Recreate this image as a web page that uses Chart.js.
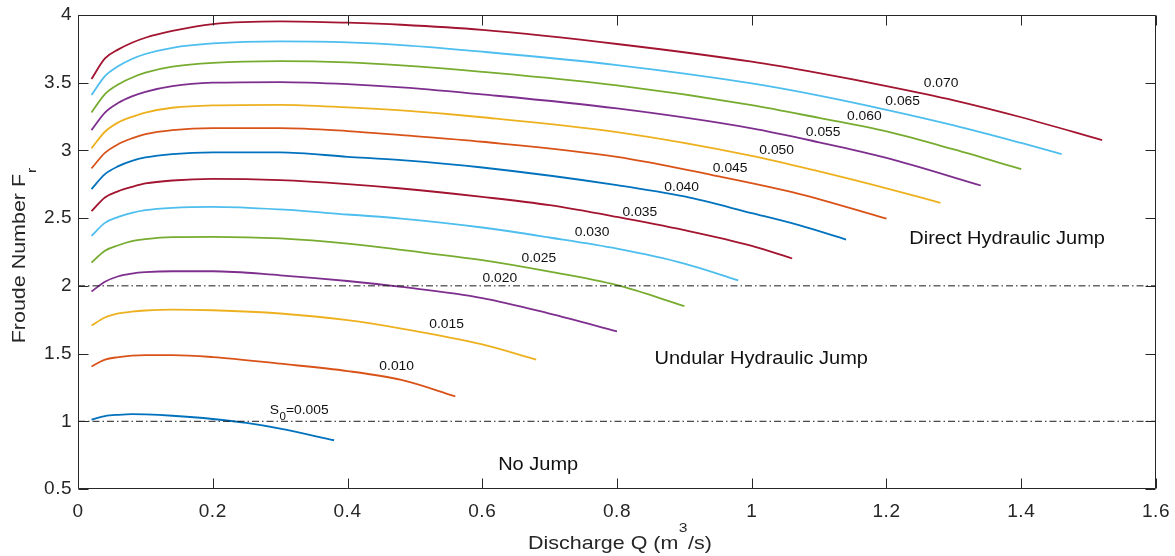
<!DOCTYPE html>
<html>
<head>
<meta charset="utf-8">
<script src="https://cdn.jsdelivr.net/npm/chart.js@4.4.1/dist/chart.umd.min.js"></script>
<style>
  html, body { margin: 0; padding: 0; background: #fff; }
  #wrap { width: 1175px; height: 556px; }
</style>
</head>
<body>
<div id="wrap"><canvas id="c" width="1175" height="556"></canvas></div>
<script>
// Froude number Fr against discharge Q for bed slopes S0 = 0.005 ... 0.070
const slopeNames = ['0.005','0.010','0.015','0.020','0.025','0.030','0.035',
                    '0.040','0.045','0.050','0.055','0.060','0.065','0.070'];

const q005 = [0.02,0.04,0.06,0.08,0.10,0.14,0.20,0.25,0.30,0.38];
const fr005 = [1.012,1.038,1.048,1.053,1.051,1.041,1.017,0.988,0.946,0.860];

const q010 = [0.02,0.04,0.06,0.08,0.10,0.14,0.20,0.30,0.40,0.48,0.56];
const fr010 = [1.405,1.455,1.474,1.485,1.489,1.489,1.474,1.425,1.371,1.305,1.184];

const q015 = [0.02,0.04,0.06,0.08,0.10,0.14,0.20,0.30,0.40,0.48,0.60,0.68];
const fr015 = [1.707,1.766,1.796,1.810,1.818,1.825,1.820,1.796,1.747,1.685,1.568,1.456];

const q020 = [0.02,0.04,0.06,0.08,0.10,0.14,0.20,0.30,0.40,0.48,0.60,0.70,0.80];
const fr020 = [1.958,2.030,2.071,2.091,2.101,2.108,2.108,2.078,2.036,1.992,1.910,1.795,1.664];

const q025 = [0.02,0.04,0.06,0.08,0.10,0.14,0.20,0.30,0.40,0.48,0.60,0.70,0.80,0.90];
const fr025 = [2.172,2.260,2.300,2.330,2.345,2.360,2.362,2.350,2.312,2.265,2.190,2.105,2.005,1.851];

const q030 = [0.02,0.04,0.06,0.08,0.10,0.14,0.20,0.30,0.40,0.48,0.60,0.70,0.80,0.90,0.98];
const fr030 = [2.369,2.465,2.509,2.539,2.559,2.576,2.583,2.564,2.527,2.497,2.431,2.357,2.275,2.165,2.041];

const q035 = [0.02,0.04,0.06,0.08,0.10,0.14,0.20,0.30,0.40,0.48,0.60,0.70,0.80,0.90,1.00,1.06];
const fr035 = [2.551,2.653,2.700,2.731,2.756,2.778,2.790,2.780,2.751,2.719,2.657,2.596,2.509,2.411,2.295,2.202];

const q040 = [0.02,0.04,0.06,0.08,0.10,0.14,0.20,0.30,0.40,0.48,0.60,0.80,0.90,1.00,1.07,1.14];
const fr040 = [2.714,2.825,2.884,2.923,2.948,2.973,2.985,2.985,2.953,2.928,2.874,2.744,2.660,2.537,2.448,2.342];

const q045 = [0.02,0.04,0.06,0.08,0.10,0.14,0.20,0.30,0.40,0.48,0.60,0.80,0.94,1.07,1.20];
const fr045 = [2.867,2.982,3.047,3.089,3.120,3.150,3.165,3.165,3.143,3.113,3.064,2.953,2.820,2.680,2.497];

const q050 = [0.02,0.04,0.06,0.08,0.10,0.14,0.20,0.30,0.40,0.48,0.60,0.80,1.00,1.10,1.20,1.28];
const fr050 = [3.015,3.138,3.207,3.248,3.280,3.315,3.333,3.337,3.318,3.295,3.245,3.135,2.960,2.845,2.720,2.613];

const q055 = [0.02,0.04,0.06,0.08,0.10,0.14,0.20,0.30,0.40,0.48,0.60,0.80,1.00,1.10,1.20,1.34];
const fr055 = [3.150,3.280,3.352,3.399,3.433,3.475,3.500,3.505,3.490,3.466,3.414,3.310,3.163,3.060,2.945,2.741];

const q060 = [0.02,0.04,0.06,0.08,0.10,0.14,0.20,0.30,0.40,0.48,0.60,0.80,1.00,1.10,1.20,1.30,1.40];
const fr060 = [3.280,3.416,3.488,3.537,3.574,3.618,3.647,3.660,3.650,3.628,3.580,3.480,3.335,3.240,3.140,3.007,2.862];

const q065 = [0.02,0.04,0.06,0.08,0.10,0.14,0.20,0.30,0.40,0.48,0.60,0.80,1.00,1.10,1.20,1.30,1.40,1.46];
const fr065 = [3.409,3.549,3.623,3.675,3.712,3.758,3.790,3.805,3.798,3.778,3.729,3.630,3.495,3.405,3.300,3.185,3.055,2.973];

const q070 = [0.02,0.04,0.06,0.08,0.10,0.14,0.20,0.30,0.40,0.48,0.60,0.80,1.00,1.10,1.20,1.30,1.40,1.52];
const fr070 = [3.527,3.680,3.746,3.795,3.832,3.882,3.933,3.953,3.943,3.928,3.890,3.786,3.655,3.570,3.475,3.370,3.245,3.076];

// Boundaries between flow regimes (Fr = 1 and Fr = 2)
const limitQ = [0, 1.6];
const limitFr = [1, 2];

// Axis ticks
const xTicks = [0, 0.2, 0.4, 0.6, 0.8, 1, 1.2, 1.4, 1.6];
const yTicks = [0.5, 1, 1.5, 2, 2.5, 3, 3.5, 4];

// Curve labels: text and anchor in data coordinates (Q, Fr)
const curveLabelQ  = [null, 0.473, 0.547, 0.626, 0.684, 0.763, 0.834, 0.896, 0.968, 1.037, 1.106, 1.167, 1.224, 1.281];
const curveLabelFr = [null, 1.401, 1.716, 2.056, 2.204, 2.396, 2.544, 2.729, 2.867, 3.000, 3.130, 3.251, 3.359, 3.497];
const firstLabelAt = { q: 0.2846, fr: 1.056 };

// Regime annotations
const regionText = ['Direct Hydraulic Jump', 'Undular Hydraulic Jump', 'No Jump'];
const regionQ  = [1.379, 1.014, 0.683];
const regionFr = [2.344, 1.458, 0.674];

const palette = ['#0072BD','#D95319','#EDB120','#7E2F8E','#77AC30','#4DBEEE','#A2142F'];
const qSeries  = [q005,q010,q015,q020,q025,q030,q035,q040,q045,q050,q055,q060,q065,q070];
const frSeries = [fr005,fr010,fr015,fr020,fr025,fr030,fr035,fr040,fr045,fr050,fr055,fr060,fr065,fr070];

const FONT = '"Liberation Sans", Arial, Helvetica, sans-serif';
const AXIS_COLOR = '#262626';
const WIDEN = 1.1;        // horizontal stretch for annotation text
const WIDEN_TITLE = 1.16; // horizontal stretch for axis titles

const datasets = [];
limitFr.forEach(f => {
  datasets.push({
    label: 'Fr = ' + f,
    data: limitQ.map(q => ({ x: q, y: f })),
    borderColor: '#1a1a1a',
    borderWidth: 1,
    borderDash: [7, 3, 1.5, 3],
    pointRadius: 0,
    tension: 0
  });
});
qSeries.forEach((qs, i) => {
  datasets.push({
    label: 'S0 = ' + slopeNames[i],
    data: qs.map((q, k) => ({ x: q, y: frSeries[i][k] })),
    borderColor: palette[i % palette.length],
    borderWidth: 1.8,
    pointRadius: 0,
    cubicInterpolationMode: 'monotone'
  });
});

// Draws text stretched along its own direction; returns drawn width
function wideText(ctx, text, x, y, font, align, k) {
  k = k || WIDEN;
  ctx.font = font;
  const w = ctx.measureText(text).width * k;
  ctx.save();
  ctx.translate(x, y);
  ctx.scale(k, 1);
  ctx.textAlign = align || 'left';
  ctx.fillText(text, 0, 0);
  ctx.restore();
  return w;
}
function wideWidth(ctx, text, font, k) {
  ctx.font = font;
  return ctx.measureText(text).width * (k || WIDEN);
}

// Box around the plot with inward tick marks on all four sides
const framePlugin = {
  id: 'frame',
  beforeDraw(chart) {
    chart.ctx.letterSpacing = '0.5px';
  },
  afterDatasetsDraw(chart) {
    const { ctx, chartArea: a, scales: { x, y } } = chart;
    ctx.save();
    ctx.strokeStyle = AXIS_COLOR;
    ctx.lineWidth = 1;
    const L = Math.round(a.left) + 0.5, R = Math.round(a.right) - 0.5;
    const T = Math.round(a.top) + 0.5, B = Math.round(a.bottom) - 0.5;
    ctx.beginPath();
    ctx.rect(L, T, R - L, B - T);
    xTicks.forEach(v => {
      const px = Math.round(x.getPixelForValue(v)) + 0.5;
      ctx.moveTo(px, B); ctx.lineTo(px, B - 10);
      ctx.moveTo(px, T); ctx.lineTo(px, T + 10);
    });
    yTicks.forEach(v => {
      const py = Math.round(y.getPixelForValue(v)) + 0.5;
      ctx.moveTo(L, py); ctx.lineTo(L + 10, py);
      ctx.moveTo(R, py); ctx.lineTo(R - 10, py);
    });
    ctx.stroke();
    ctx.restore();
  }
};

// Text inside the plot and the axis titles
const textPlugin = {
  id: 'texts',
  afterDraw(chart) {
    const { ctx, chartArea: a, scales: { x, y } } = chart;
    ctx.save();
    ctx.letterSpacing = '0px';
    ctx.fillStyle = '#111';

    // slope labels on the curves
    const lblFont = '12.6px ' + FONT;
    ctx.textBaseline = 'middle';
    slopeNames.forEach((s, i) => {
      if (curveLabelQ[i] === null) return;
      wideText(ctx, s, x.getPixelForValue(curveLabelQ[i]), y.getPixelForValue(curveLabelFr[i]), lblFont, 'center');
    });

    // S0=0.005 with subscript
    ctx.textBaseline = 'alphabetic';
    let px = x.getPixelForValue(firstLabelAt.q);
    const py = y.getPixelForValue(firstLabelAt.fr);
    px += wideText(ctx, 'S', px, py, lblFont);
    px += wideText(ctx, '0', px + 0.5, py + 6, '10.5px ' + FONT) + 0.5;
    wideText(ctx, '=' + slopeNames[0], px, py, lblFont);

    // regime names
    ctx.textBaseline = 'middle';
    regionText.forEach((t, i) => {
      wideText(ctx, t, x.getPixelForValue(regionQ[i]), y.getPixelForValue(regionFr[i]), '18.2px ' + FONT, 'center');
    });

    // x axis title: Discharge Q (m^3/s)
    ctx.fillStyle = AXIS_COLOR;
    ctx.textBaseline = 'alphabetic';
    const K = WIDEN_TITLE;
    const mainFont = '18.5px ' + FONT, supFont = '13.5px ' + FONT;
    const p1 = 'Discharge Q (m', p3 = '/s)';
    const w1 = wideWidth(ctx, p1, mainFont, K), w2 = wideWidth(ctx, '3', supFont, K), w3 = wideWidth(ctx, p3, mainFont, K);
    let tx = (a.left + a.right) / 2 + 3 - (w1 + w2 + w3 + 1) / 2;
    const ty = 548.5;
    tx += wideText(ctx, p1, tx, ty, mainFont, 'left', K) + 0.5;
    tx += wideText(ctx, '3', tx, ty - 17, supFont, 'left', K) + 0.5;
    wideText(ctx, p3, tx, ty, mainFont, 'left', K);

    // y axis title: Froude Number F_r (rotated)
    ctx.save();
    const q1 = 'Froude Number F';
    const wq = wideWidth(ctx, q1, mainFont, K), wr = wideWidth(ctx, 'r', supFont, K);
    const cy = (a.top + a.bottom) / 2 + 4;
    ctx.translate(25, cy + (wq + wr) / 2);
    ctx.rotate(-Math.PI / 2);
    wideText(ctx, q1, 0, 0, mainFont, 'left', K);
    wideText(ctx, 'r', wq + 1, 10.5, supFont, 'left', K);
    ctx.restore();

    ctx.restore();
  }
};

const tickFont = { family: FONT, size: 19 };

new Chart(document.getElementById('c'), {
  type: 'line',
  data: { datasets },
  options: {
    responsive: false,
    animation: false,
    devicePixelRatio: 1,
    layout: { padding: { top: 15, right: 19, left: 0, bottom: 0 } },
    plugins: { legend: { display: false }, tooltip: { enabled: false } },
    scales: {
      x: {
        type: 'linear',
        min: 0, max: 1.6,
        afterBuildTicks: s => { s.ticks = xTicks.map(v => ({ value: v })); },
        afterFit: s => { s.height = 67; s.paddingLeft = 0; s.paddingRight = 0; },
        grid: { display: false, drawTicks: false },
        border: { display: false },
        ticks: {
          font: tickFont, color: AXIS_COLOR, padding: 11,
          maxRotation: 0, autoSkip: false,
          callback: v => String(+(+v).toFixed(1))
        }
      },
      y: {
        type: 'linear',
        min: 0.5, max: 4,
        afterBuildTicks: s => { s.ticks = yTicks.map(v => ({ value: v })); },
        afterFit: s => { s.width = 78; s.paddingTop = 0; s.paddingBottom = 0; },
        grid: { display: false, drawTicks: false },
        border: { display: false },
        ticks: {
          font: tickFont, color: AXIS_COLOR, padding: 6,
          autoSkip: false,
          callback: v => String(+(+v).toFixed(1))
        }
      }
    }
  },
  plugins: [framePlugin, textPlugin]
});
</script>
</body>
</html>
